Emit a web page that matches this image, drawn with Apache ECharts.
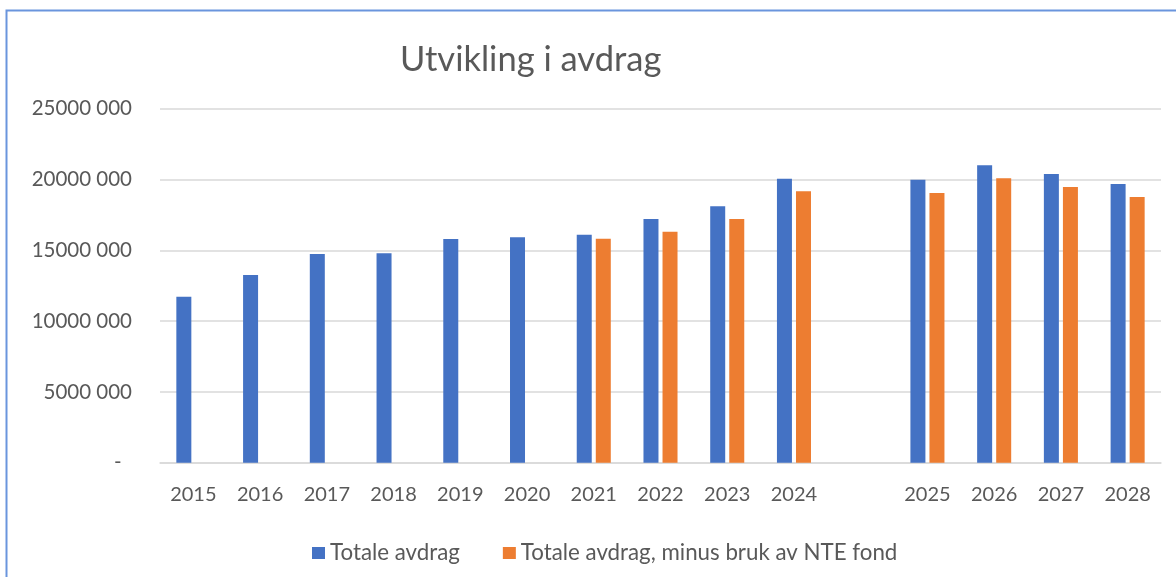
<!DOCTYPE html>
<html>
<head>
<meta charset="utf-8">
<script src="https://cdn.jsdelivr.net/npm/echarts@6/dist/echarts.min.js"></script>
<style>
html,body{margin:0;padding:0;background:#fff;}
#c{width:1176px;height:577px;}
</style>
</head>
<body>
<div id="c"></div>
<script>
const categories = ['2015','2016','2017','2018','2019','2020','2021','2022','2023','2024','','2025','2026','2027','2028'];
const totaleAvdrag = [11720000,13260000,14740000,14790000,15800000,15920000,16100000,17210000,18110000,20060000,null,19990000,21000000,20390000,19680000];
const minusNTE = [null,null,null,null,null,null,15820000,16310000,17210000,19170000,null,19050000,20080000,19470000,18760000];
const seriesNames = ['Totale avdrag','Totale avdrag, minus bruk av NTE fond'];
const titleText = 'Utvikling i avdrag';

const FONT = 'Lato';
const TXT = '#595959';
const chart = echarts.init(document.getElementById('c'));
chart.setOption({
  animation:false,
  backgroundColor:'#fff',
  textStyle:{fontFamily:FONT},
  graphic:[{type:'rect',shape:{x:6.5,y:10.5,width:1400,height:800},style:{fill:'none',stroke:'#6A95DD',lineWidth:2},silent:true}],
  title:{text:titleText,left:395,top:37,textStyle:{fontFamily:FONT,fontSize:34.5,fontWeight:'normal',color:TXT}},
  legend:{left:307,top:537,itemWidth:13,itemHeight:12,itemGap:43,icon:'rect',
    textStyle:{fontFamily:FONT,fontSize:22.3,color:TXT},data:seriesNames},
  grid:{left:160,right:15,top:108.7,bottom:114.3,containLabel:false},
  xAxis:{type:'category',data:categories,
    axisLine:{lineStyle:{color:'#D9D9D9',width:1.5}},axisTick:{show:false},
    axisLabel:{fontFamily:FONT,fontSize:20,color:TXT,margin:22,interval:0}},
  yAxis:{type:'value',min:0,max:25000000,interval:5000000,
    axisLine:{show:false},axisTick:{show:false},
    splitLine:{lineStyle:{color:'#D9D9D9',width:1.5}},
    axisLabel:{fontFamily:FONT,fontSize:20.5,color:TXT,margin:28,
      formatter:function(v){ if(v===0) return '-  '; const k=Math.floor(v/1000); const r=String(v%1000).padStart(3,'0'); return k+' '+r; }}},
  series:[
    {name:seriesNames[0],type:'bar',data:totaleAvdrag,barWidth:15,barGap:'27%',itemStyle:{color:'#4472C4'}},
    {name:seriesNames[1],type:'bar',data:minusNTE,barWidth:15,itemStyle:{color:'#ED7D31'}}
  ]
});
</script>
</body>
</html>
